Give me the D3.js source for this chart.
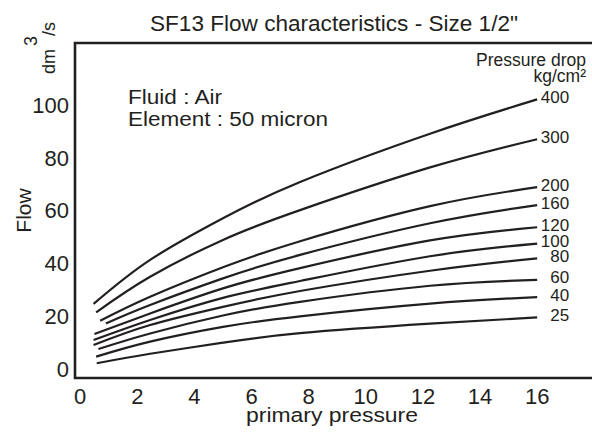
<!DOCTYPE html>
<html>
<head>
<meta charset="utf-8">
<script src="https://cdn.jsdelivr.net/npm/d3@7"></script>
<style>
  html, body { margin: 0; padding: 0; background: #fff; }
  svg { display: block; }
  text { font-family: "Liberation Sans", Arial, Helvetica, sans-serif; fill: #231f20; }
</style>
</head>
<body>
<svg id="chart" width="592" height="435"></svg>
<script>
// ---- data ----
const title = 'SF13 Flow characteristics - Size 1/2"';
const xTicks = [0, 2, 4, 6, 8, 10, 12, 14, 16];
const yTicks = [0, 20, 40, 60, 80, 100];
const dropLabels = ["400", "300", "200", "160", "120", "100", "80", "60", "40", "25"];
// first x of each curve (primary pressure where the curve starts)
const startX = [0.47, 0.56, 0.70, 0.90, 0.50, 0.47, 0.47, 0.64, 0.56, 0.58];
// common x positions after the start point
const sampleX = [2.45, 5, 7.7, 12.25, 16];
// flow values: start point, then sampleX
const flow400 = [24.7, 41.4, 57.2, 71.0, 89.3, 102.3];
const flow300 = [21.5, 35.0, 49.0, 60.3, 76.5, 87.2];
const flow200 = [18.3, 27.4, 38.6, 48.5, 61.8, 69.0];
const flow160 = [17.3, 24.3, 34.4, 43.3, 55.3, 62.2];
const flow120 = [13.3, 21.1, 30.6, 38.3, 48.8, 53.8];
const flow100 = [11.0, 18.6, 27.0, 33.4, 42.8, 47.6];
const flow80  = [9.1, 16.7, 23.6, 29.6, 37.3, 42.0];
const flow60  = [7.6, 13.5, 20.3, 25.5, 31.6, 33.8];
const flow40  = [4.7, 10.4, 16.0, 20.0, 24.8, 27.3];
const flow25  = [2.2, 5.8, 10.0, 13.6, 17.2, 19.6];
const flows = [flow400, flow300, flow200, flow160, flow120, flow100, flow80, flow60, flow40, flow25];

// ---- layout ----
const ink = "#231f20";
const svg = d3.select("#chart");

const x = d3.scaleLinear().domain([-0.18, 17.92]).range([75, 592]);
const y = d3.scaleLinear().domain([-3.4, 123.7]).range([378, 43]);

const series = flows.map((vals, i) => ({
  label: dropLabels[i],
  points: vals.map((v, j) => [j === 0 ? startX[i] : sampleX[j - 1], v])
}));

// frame: left, top, bottom lines
const [x0, x1] = x.range();
const [yb, yt] = y.range();
svg.append("path")
  .attr("d", `M${x1},${yt}H${x0}V${yb}H${x1}`)
  .attr("fill", "none").attr("stroke", ink).attr("stroke-width", 2.6);

// curves
const line = d3.line().x(d => x(d[0])).y(d => y(d[1])).curve(d3.curveNatural);
svg.append("g").selectAll("path").data(series).join("path")
  .attr("d", d => line(d.points))
  .attr("fill", "none").attr("stroke", ink).attr("stroke-width", 2.2);

// curve labels
svg.append("g").selectAll("text").data(series).join("text")
  .attr("x", d => x(16) + 32)
  .attr("y", d => y(d.points[d.points.length - 1][1]) - 2)
  .attr("text-anchor", "end").attr("dominant-baseline", "central")
  .attr("font-size", 17)
  .text(d => d.label);

// x tick labels
svg.append("g").selectAll("text").data(xTicks).join("text")
  .attr("x", d => x(d)).attr("y", 404)
  .attr("text-anchor", "middle").attr("font-size", 22)
  .text(d => d);

// y tick labels
svg.append("g").selectAll("text").data(yTicks).join("text")
  .attr("x", 69).attr("y", d => y(d))
  .attr("text-anchor", "end").attr("dominant-baseline", "central")
  .attr("font-size", 22)
  .text(d => d);

// text stretched horizontally to the reference's wider face
function wide(xs, ys, size, len, str) {
  return svg.append("text").attr("x", xs).attr("y", ys)
    .attr("font-size", size)
    .attr("textLength", len).attr("lengthAdjust", "spacingAndGlyphs")
    .text(str);
}

// title
wide(150, 30.5, 21.5, 368, title);

// axis titles
wide(246, 421.5, 20.5, 172, "primary pressure");
svg.append("text").attr("transform", "translate(31,210.5) rotate(-90)")
  .attr("text-anchor", "middle").attr("font-size", 21).text("Flow");
const unit = svg.append("text").attr("transform", "translate(55,74) rotate(-90)")
  .attr("font-size", 18);
unit.append("tspan").text("dm");
unit.append("tspan").attr("dx", 3).attr("dy", -18).text("3");
unit.append("tspan").attr("dx", 0).attr("dy", 18).text("/s");

// annotations
wide(128, 103.5, 19.5, 94, "Fluid : Air");
wide(128, 126, 19.5, 200, "Element : 50 micron");
svg.append("text").attr("x", 586).attr("y", 66).attr("text-anchor", "end")
  .attr("font-size", 17.5).text("Pressure drop");
svg.append("text").attr("x", 586).attr("y", 82).attr("text-anchor", "end")
  .attr("font-size", 17.5).text("kg/cm²");
</script>
</body>
</html>
